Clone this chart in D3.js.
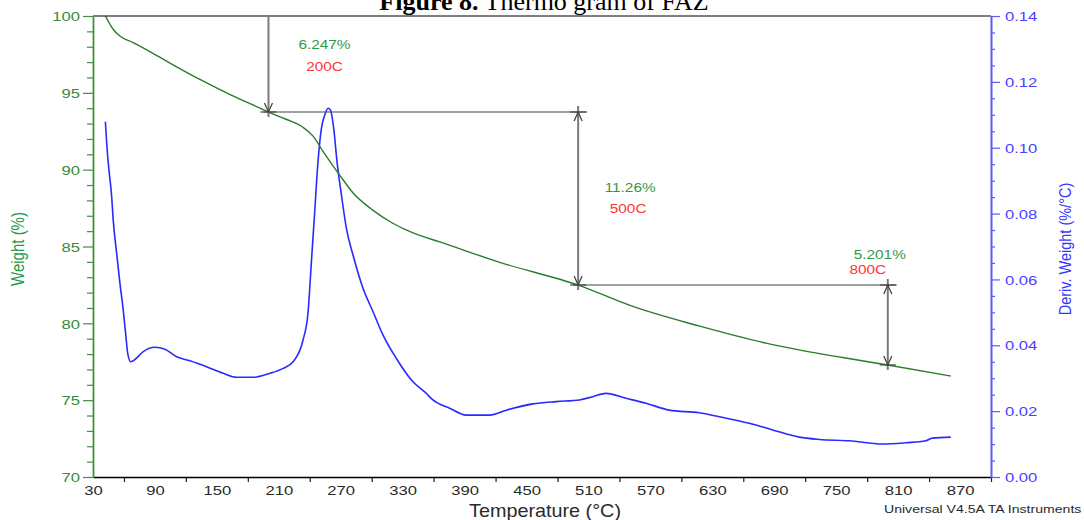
<!DOCTYPE html>
<html>
<head>
<meta charset="utf-8">
<title>Thermo gram of FAZ</title>
<script src="https://cdn.jsdelivr.net/npm/d3@7"></script>
<style>
  html, body { margin: 0; padding: 0; background: #fff; }
  svg { display: block; }
</style>
</head>
<body>
<svg id="chart" width="1084" height="520"></svg>
<script>
// ---- Weight curve (TGA): temperature (°C) and weight (%) ----
const tgaTemp   = [42, 50, 56, 69, 88, 108, 127, 146, 166, 185, 200, 217, 233, 243, 253, 262, 269, 282, 301, 320, 340, 366, 424, 500, 553, 617, 682, 714, 800, 861];
const tgaWeight = [100.0, 99.09, 98.70, 98.26, 97.57, 96.81, 96.10, 95.45, 94.79, 94.21, 93.75, 93.28, 92.78, 92.20, 91.17, 90.30, 89.65, 88.48, 87.37, 86.53, 85.88, 85.30, 83.97, 82.49, 81.10, 79.83, 78.71, 78.27, 77.29, 76.57];

// ---- Derivative weight curve (DTG): temperature (°C) and %/°C ----
const dtgTemp  = [42, 43.3, 44.8, 48.1, 49.6, 52.9, 56.1, 59.3, 61.6, 63.6, 66.5, 69, 78.7, 90, 99.7, 111, 123.9, 140, 156.1, 169.1, 185.1, 201.3, 214.2, 223.8, 233.5, 238.4, 241.6, 244.8, 248, 251.3, 254.5, 257.7, 260, 263.2, 266.4, 270.7, 275.5, 281.9, 291.6, 301.3, 311, 323.9, 340, 352.9, 359.3, 375.5, 391.6, 414.2, 430.4, 456.1, 478.7, 501.3, 514.2, 527.1, 546.5, 565.8, 588.4, 617.4, 636.8, 665.8, 688.4, 714.2, 733.5, 762.6, 794.8, 817.5, 836.8, 843.2, 861];
const dtgDeriv = [0.1079, 0.1013, 0.0953, 0.0851, 0.0780, 0.0680, 0.0588, 0.0507, 0.0436, 0.0376, 0.0350, 0.0353, 0.0381, 0.0394, 0.0388, 0.0365, 0.0353, 0.0335, 0.0315, 0.0303, 0.0303, 0.0315, 0.0330, 0.0350, 0.0416, 0.0502, 0.0654, 0.0806, 0.0958, 0.1059, 0.1099, 0.1120, 0.1115, 0.1059, 0.0958, 0.0856, 0.0755, 0.0674, 0.0573, 0.0502, 0.0431, 0.0360, 0.0289, 0.0254, 0.0234, 0.0209, 0.0188, 0.0188, 0.0203, 0.0222, 0.0229, 0.0234, 0.0244, 0.0254, 0.0239, 0.0224, 0.0203, 0.0195, 0.0183, 0.0163, 0.0143, 0.0121, 0.0114, 0.0110, 0.0100, 0.0104, 0.0110, 0.0118, 0.0121];

// ---- Step transitions: temperature where each step ends and its weight loss (%) ----
const stepTemps = [200, 500, 800];
const stepLoss  = [6.247, 11.26, 5.201];
const stepStartWeight = 100;

// ---- Axis ticks ----
const tempTicks   = [30, 90, 150, 210, 270, 330, 390, 450, 510, 570, 630, 690, 750, 810, 870];
const tempMinor   = [60, 120, 180, 240, 300, 360, 420, 480, 540, 600, 660, 720, 780, 840, 900];
const weightTicks = [70, 75, 80, 85, 90, 95, 100];
const derivTicks  = [0, 0.02, 0.04, 0.06, 0.08, 0.10, 0.12, 0.14];

// ---- Layout ----
const plot = { left: 93, right: 991, top: 16, bottom: 477 };
const SANS = "'Liberation Sans', Arial, Helvetica, sans-serif";
const SERIF = "'Liberation Serif', 'Times New Roman', serif";
const SX = 1.28;          // horizontal stretch of the small instrument lettering

const colors = {
  weight: "#2b7b2b", weightAxis: "#3f8f3f", weightText: "#3a8a3a", weightTitle: "#25994a",
  deriv: "#2a2aff", derivAxis: "#5a5aff", derivText: "#4a40ff",
  annot: "#444", arrow: "#7a7a7a", pct: "#2f9a45", temp: "#ff3333", ink: "#2a2a2a"
};

// label placement for each step annotation: [dx of % label, dy of % label, dx of temp label, dy of temp label]
// dy is measured from the top end of the step arrow
const stepLabelLayout = [
  [56, 33, 56, 55],
  [52, 80, 50, 100.6],
  [-8, -26, -20, -11]
];

const svg = d3.select("#chart");

const x  = d3.scaleLinear().domain([30, 900]).range([plot.left, plot.right]);
const yW = d3.scaleLinear().domain([70, 100]).range([plot.bottom, plot.top]);
const yD = d3.scaleLinear().domain([0, 0.14]).range([plot.bottom, plot.top]);

// stretch a text element horizontally around its own anchor
function stretch(sel, sx) {
  sel.each(function () {
    const t = d3.select(this);
    const tx = +(t.attr("x") || 0);
    t.attr("x", tx / sx).attr("transform", `scale(${sx},1)`);
  });
}

function freeText(str, px, py, opts) {
  const sx = opts.sx || 1;
  const t = svg.append("text")
    .attr("transform", `translate(${px},${py}) scale(${sx},1)` + (opts.rotate ? ` rotate(${opts.rotate})` : ""))
    .attr("text-anchor", opts.anchor || "start")
    .attr("font-family", opts.family || SANS)
    .attr("font-size", opts.size)
    .attr("font-weight", opts.weight || "normal")
    .attr("fill", opts.fill || "#000")
    .text(str);
  return t;
}

// ---- Clip region for the curves ----
svg.append("defs").append("clipPath").attr("id", "plotClip")
  .append("rect")
  .attr("x", plot.left).attr("y", plot.top)
  .attr("width", plot.right - plot.left).attr("height", plot.bottom - plot.top);

// ---- Curves ----
const dtgLine = d3.line().x(d => x(d[0])).y(d => yD(d[1])).curve(d3.curveMonotoneX);
const tgaLine = d3.line().x(d => x(d[0])).y(d => yW(d[1])).curve(d3.curveMonotoneX);

svg.append("path")
  .datum(d3.zip(dtgTemp, dtgDeriv))
  .attr("clip-path", "url(#plotClip)")
  .attr("d", dtgLine)
  .attr("fill", "none")
  .attr("stroke", colors.deriv)
  .attr("stroke-width", 1.6)
  .attr("stroke-linejoin", "round");

svg.append("path")
  .datum(d3.zip(tgaTemp, tgaWeight))
  .attr("clip-path", "url(#plotClip)")
  .attr("d", tgaLine)
  .attr("fill", "none")
  .attr("stroke", colors.weight)
  .attr("stroke-width", 1.4)
  .attr("stroke-linejoin", "round");

// ---- Frame top edge ----
svg.append("line")
  .attr("x1", plot.left).attr("x2", plot.right)
  .attr("y1", plot.top).attr("y2", plot.top)
  .attr("stroke", "#000").attr("stroke-width", 1.2);

// ---- Step-transition annotations ----
const levels = [stepStartWeight];
stepLoss.forEach(l => levels.push(+(levels[levels.length - 1] - l).toFixed(3)));

const gA = svg.append("g");

// horizontal level lines joining consecutive steps
stepTemps.forEach((t, i) => {
  if (i < stepTemps.length - 1) {
    gA.append("line")
      .attr("x1", x(t) - 5).attr("x2", x(stepTemps[i + 1]) + 9)
      .attr("y1", yW(levels[i + 1])).attr("y2", yW(levels[i + 1]))
      .attr("stroke", colors.annot).attr("stroke-width", 1.1);
  }
});

stepTemps.forEach((t, i) => {
  const cx = x(t);
  const yTop = yW(levels[i]);
  const yBot = yW(levels[i + 1]);
  const topExt = i === 0 ? 0 : 6;

  // shaft
  gA.append("line")
    .attr("x1", cx).attr("x2", cx)
    .attr("y1", yTop - topExt).attr("y2", yBot + 5)
    .attr("stroke", colors.arrow).attr("stroke-width", 2);

  // end cross bars
  gA.append("line")
    .attr("x1", cx - 8).attr("x2", cx + 8)
    .attr("y1", yBot).attr("y2", yBot)
    .attr("stroke", colors.annot).attr("stroke-width", 1.2);
  if (i > 0) {
    gA.append("line")
      .attr("x1", cx - 8).attr("x2", cx + 8)
      .attr("y1", yTop).attr("y2", yTop)
      .attr("stroke", colors.annot).attr("stroke-width", 1.2);
  }

  // arrow heads
  gA.append("path")
    .attr("d", `M${cx - 4},${yBot - 9}L${cx},${yBot}L${cx + 4},${yBot - 9}`)
    .attr("fill", "none").attr("stroke", colors.annot).attr("stroke-width", 1.3);
  if (i > 0) {
    gA.append("path")
      .attr("d", `M${cx - 4},${yTop + 9}L${cx},${yTop}L${cx + 4},${yTop + 9}`)
      .attr("fill", "none").attr("stroke", colors.annot).attr("stroke-width", 1.3);
  }

  // labels
  const lay = stepLabelLayout[i];
  freeText(`${stepLoss[i]}%`, cx + lay[0], yTop + lay[1], { size: 12, sx: SX, anchor: "middle", fill: colors.pct });
  freeText(`${t}C`, cx + lay[2], yTop + lay[3], { size: 12, sx: SX, anchor: "middle", fill: colors.temp });
});

// ---- Bottom axis (temperature) ----
const gB = svg.append("g").attr("transform", `translate(0,${plot.bottom})`);
gB.append("g")
  .call(d3.axisBottom(x).tickValues(tempMinor).tickSize(5).tickSizeOuter(0).tickFormat(""))
  .call(g => g.select(".domain").remove())
  .call(g => g.selectAll(".tick line").attr("stroke", "#222").attr("stroke-width", 1.2));
gB.append("g")
  .call(d3.axisBottom(x).tickValues(tempTicks).tickSize(0).tickSizeOuter(0).tickFormat(d3.format("d")))
  .call(g => g.select(".domain").attr("stroke", "#000").attr("stroke-width", 1.5))
  .call(g => g.selectAll(".tick line").remove())
  .call(g => g.selectAll(".tick text")
    .attr("y", 18).attr("dy", null)
    .attr("font-family", SANS).attr("font-size", 13).attr("fill", colors.ink)
    .call(stretch, SX));

// ---- Left axis (weight) ----
const gL = svg.append("g").attr("transform", `translate(${plot.left},0)`);
gL.append("g")
  .call(d3.axisLeft(yW).tickValues(d3.range(71, 100).filter(v => v % 5 !== 0)).tickSize(6).tickSizeOuter(0).tickFormat(""))
  .call(g => g.select(".domain").remove())
  .call(g => g.selectAll(".tick line").attr("stroke", colors.weightAxis).attr("stroke-width", 1.2));
gL.append("g")
  .call(d3.axisLeft(yW).tickValues(weightTicks).tickSize(10).tickSizeOuter(0).tickPadding(3).tickFormat(d3.format("d")))
  .call(g => g.select(".domain").attr("stroke", colors.weightAxis).attr("stroke-width", 1.8))
  .call(g => g.selectAll(".tick line").attr("stroke", colors.weightAxis).attr("stroke-width", 1.2))
  .call(g => g.selectAll(".tick text")
    .attr("dy", "0.36em")
    .attr("font-family", SANS).attr("font-size", 13).attr("fill", colors.weightText)
    .call(stretch, SX));

// ---- Right axis (derivative weight) ----
const gR = svg.append("g").attr("transform", `translate(${plot.right},0)`);
gR.append("g")
  .call(d3.axisRight(yD).tickValues(d3.range(0.005, 0.14, 0.005).filter(v => Math.abs(v / 0.02 - Math.round(v / 0.02)) > 1e-6)).tickSize(4).tickSizeOuter(0).tickFormat(""))
  .call(g => g.select(".domain").remove())
  .call(g => g.selectAll(".tick line").attr("stroke", colors.derivAxis).attr("stroke-width", 1.2));
gR.append("g")
  .call(d3.axisRight(yD).tickValues(derivTicks).tickSize(9).tickSizeOuter(0).tickPadding(5).tickFormat(d3.format(".2f")))
  .call(g => g.select(".domain").attr("stroke", colors.derivAxis).attr("stroke-width", 2))
  .call(g => g.selectAll(".tick line").attr("stroke", colors.derivAxis).attr("stroke-width", 1.2))
  .call(g => g.selectAll(".tick text")
    .attr("dy", "0.36em")
    .attr("font-family", SANS).attr("font-size", 13).attr("fill", colors.derivText)
    .call(stretch, SX));

// ---- Axis titles ----
freeText("Temperature (°C)", 545, 517, { size: 18, sx: 1.1, anchor: "middle", fill: colors.ink });
freeText("Weight (%)", 24, 249, { size: 15, sx: 1.25, anchor: "middle", rotate: -90, fill: colors.weightTitle });
freeText("Deriv. Weight (%/°C)", 1071, 249, { size: 14.5, sx: 1.2, anchor: "middle", rotate: -90, fill: "#3535ff" });

// ---- Instrument stamp ----
freeText("Universal V4.5A TA Instruments", 884, 513, { size: 11, sx: SX, fill: colors.ink });

// ---- Figure caption ----
const cap = svg.append("text")
  .attr("x", 544).attr("y", 10)
  .attr("text-anchor", "middle")
  .attr("font-family", SERIF)
  .attr("font-size", 26)
  .attr("fill", "#000");
cap.append("tspan").attr("font-weight", "bold").text("Figure 8.");
cap.append("tspan").text(" Thermo gram of FAZ");
</script>
</body>
</html>
